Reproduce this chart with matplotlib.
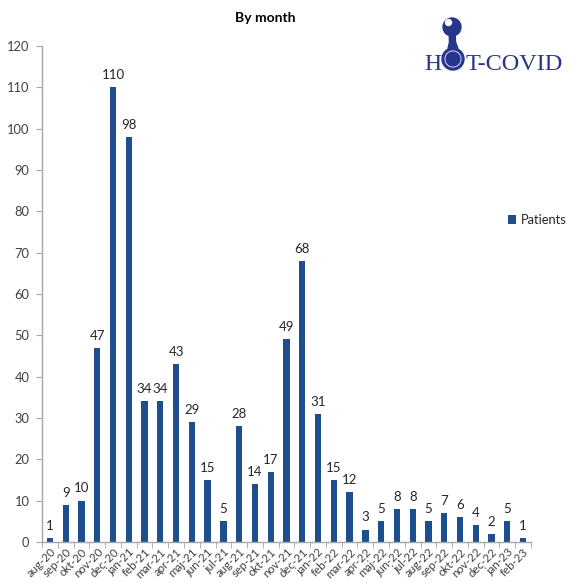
import numpy as np
import matplotlib.pyplot as plt
from matplotlib.patches import Circle, Polygon

months = ['aug-20', 'sep-20', 'okt-20', 'nov-20', 'dec-20', 'jan-21', 'feb-21',
          'mar-21', 'apr-21', 'maj-21', 'jun-21', 'jul-21', 'aug-21', 'sep-21',
          'okt-21', 'nov-21', 'dec-21', 'jan-22', 'feb-22', 'mar-22', 'apr-22',
          'maj-22', 'jun-22', 'jul-22', 'aug-22', 'sep-22', 'okt-22', 'nov-22',
          'dec-22', 'jan-23', 'feb-23']
patients = [1, 9, 10, 47, 110, 98, 34, 34, 43, 29, 15, 5, 28, 14, 17, 49, 68,
            31, 15, 12, 3, 5, 8, 8, 5, 7, 6, 4, 2, 5, 1]
y_ticks = list(range(0, 121, 10))

BAR_COLOR = '#1f4e8c'
AXIS_COLOR = '#a6a6a6'
TEXT_COLOR = '#404040'

plt.rcParams['font.family'] = ['Lato', 'DejaVu Sans']

fig = plt.figure(figsize=(5.71, 5.82), dpi=100)
ax = fig.add_axes([42 / 571, 1 - 542 / 582, (531 - 42) / 571, (542 - 46) / 582])

x = np.arange(len(months))
bars = ax.bar(x, patients, width=0.4, color=BAR_COLOR, label='Patients')
for xi, v in zip(x, patients):
    ax.text(xi, v + 1.5, str(v), ha='center', va='bottom', fontsize=9.5,
            color='#262626')

ax.set_xlim(-0.5, len(months) - 0.5)
ax.set_ylim(0, 120)
ax.set_yticks(y_ticks)
ax.set_xticks(x)
ax.set_xticklabels(months, rotation=45, ha='right', rotation_mode='anchor',
                   fontsize=8.3, color=TEXT_COLOR)
ax.set_xticks(np.arange(-0.5, len(months), 1), minor=True)
ax.tick_params(axis='x', which='major', length=0, pad=3)
ax.tick_params(axis='x', which='minor', length=4, color=AXIS_COLOR, direction='out')
ax.tick_params(axis='y', length=4, color=AXIS_COLOR, labelsize=9.3,
               labelcolor=TEXT_COLOR, pad=5)
for side in ('top', 'right'):
    ax.spines[side].set_visible(False)
for side in ('left', 'bottom'):
    ax.spines[side].set_color(AXIS_COLOR)
    ax.spines[side].set_linewidth(1)

fig.text(265 / 571, 1 - 18 / 582, 'By month', ha='center', va='center',
         fontsize=10, fontweight='bold', color='black')

fig.legend(handles=[bars], labels=['Patients'], loc='center left',
           bbox_to_anchor=(502 / 571, 1 - 220 / 582), frameon=False,
           fontsize=9.3, handlelength=0.6, handleheight=0.6, handletextpad=0.35,
           borderpad=0, labelcolor='#262626')

# HOT-COVID logo, drawn in pixel coordinates
logo = fig.add_axes([0, 0, 1, 1], zorder=5)
logo.set_xlim(0, 571)
logo.set_ylim(582, 0)
logo.axis('off')
logo.patch.set_alpha(0)
navy = '#27358c'
logo.text(441, 70, 'H', fontsize=17, family='Liberation Serif', color=navy,
          ha='right', va='baseline')
logo.text(466, 70, 'T-COVID', fontsize=17.5, family='Liberation Serif', color=navy,
          ha='left', va='baseline')
logo.add_patch(Circle((453, 59), 11, color=navy))
logo.add_patch(Circle((453, 59), 8.5, facecolor='white', edgecolor='none'))
logo.add_patch(Circle((453, 59), 7, color=navy))
logo.add_patch(Polygon([(449, 30), (455, 30), (455.5, 42), (458, 48.5),
                        (448, 48.5), (449.5, 42)], closed=True, color=navy))
logo.add_patch(Circle((452, 27), 9, color=navy))
logo.add_patch(Circle((448.5, 22.5), 3, color='white'))

fig.savefig('out.png', dpi=100)
